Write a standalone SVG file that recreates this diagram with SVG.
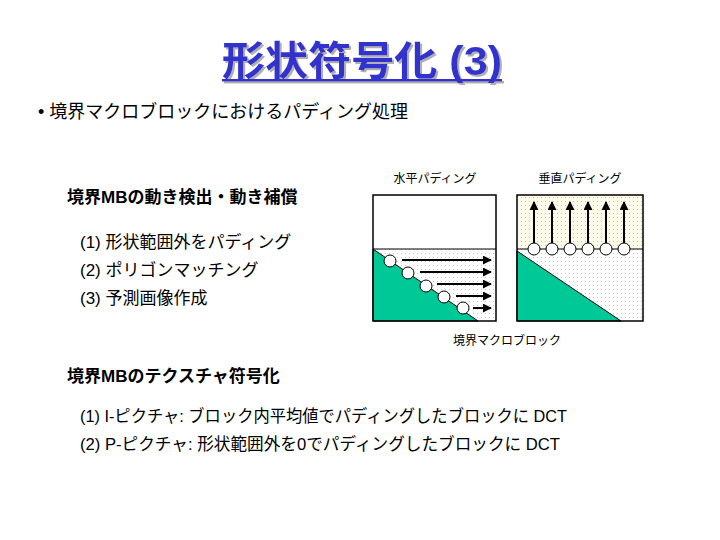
<svg xmlns="http://www.w3.org/2000/svg" width="720" height="540" viewBox="0 0 720 540">
<style>
.t{font-family:"Liberation Sans","Noto Sans CJK JP",sans-serif;fill:#000}
.b{font-weight:bold}
.box{fill:none;stroke:#000;stroke-width:1.5}
.arr{stroke:#000;stroke-width:2;fill:none;marker-end:url(#ah)}
.c{fill:#fff;stroke:#000;stroke-width:1}
.g{fill:#00c896;stroke:#000;stroke-width:1}
</style>
<defs>
<pattern id="dots" width="4" height="4" patternUnits="userSpaceOnUse">
<rect width="4" height="4" fill="#fff"/>
<rect x="1" y="1" width="1" height="1" fill="#c8c8c8"/>
</pattern>
<pattern id="dotsY" width="4" height="4" patternUnits="userSpaceOnUse">
<rect width="4" height="4" fill="#fcfae8"/>
<rect x="1" y="1" width="1" height="1" fill="#c4c4b4"/>
</pattern>
<marker id="ah" viewBox="0 0 10 10" refX="9" refY="5" markerWidth="4.5" markerHeight="4.5" orient="auto" markerUnits="strokeWidth">
<path d="M0,0 L10,5 L0,10 Z" fill="#000"/>
</marker>
<filter id="shadow" x="-10%" y="-20%" width="120%" height="140%">
<feOffset in="SourceAlpha" dx="2" dy="2" result="o"/>
<feFlood flood-color="#b0b0b0"/>
<feComposite in2="o" operator="in" result="s"/>
<feMerge><feMergeNode in="s"/><feMergeNode in="SourceGraphic"/></feMerge>
</filter>
</defs>
<rect width="720" height="540" fill="#fff"/>

<g id="title" filter="url(#shadow)">
<text x="222" y="75" class="t b" font-size="40" textLength="280" lengthAdjust="spacingAndGlyphs" style="fill:#3333cc">形状符号化 (3)</text>
<rect x="222" y="79" width="280" height="2.5" fill="#3333cc"/>
</g>

<g id="bullet">
<text x="38" y="118" class="t" font-size="18">• 境界マクロブロックにおけるパディング処理</text>
</g>

<g id="motion">
<text x="67" y="203" class="t b" font-size="17">境界MBの動き検出・動き補償</text>
<text x="80" y="248" class="t" font-size="17">(1) 形状範囲外をパディング</text>
<text x="80" y="276" class="t" font-size="17">(2) ポリゴンマッチング</text>
<text x="80" y="304" class="t" font-size="17">(3) 予測画像作成</text>
</g>

<g id="texture">
<text x="67" y="382" class="t b" font-size="17">境界MBのテクスチャ符号化</text>
<text x="80" y="422" class="t" font-size="17" textLength="487" lengthAdjust="spacingAndGlyphs">(1) I-ピクチャ: ブロック内平均値でパディングしたブロックに DCT</text>
<text x="80" y="450" class="t" font-size="17" textLength="480" lengthAdjust="spacingAndGlyphs">(2) P-ピクチャ: 形状範囲外を0でパディングしたブロックに DCT</text>
</g>

<g id="horizontal-padding">
<text x="435" y="183" text-anchor="middle" class="t" font-size="12">水平パディング</text>
<rect x="373" y="195" width="123" height="54" fill="#fff"/>
<rect x="373" y="249" width="123" height="72" fill="url(#dots)"/>
<polygon points="373,249 373,321 478,321" class="g"/>
<line x1="373" y1="249" x2="496" y2="249" stroke="#000" stroke-width="1"/>
<rect x="373" y="195" width="123" height="126" class="box"/>
</g>

<g id="vertical-padding">
<text x="580" y="183" text-anchor="middle" class="t" font-size="12">垂直パディング</text>
<rect x="517" y="195" width="126" height="54" fill="url(#dotsY)"/>
<rect x="517" y="249" width="126" height="72" fill="url(#dots)"/>
<polygon points="517,251 517,321 621,321" class="g"/>
<line x1="517" y1="249" x2="643" y2="249" stroke="#000" stroke-width="1"/>
<rect x="517" y="195" width="126" height="126" class="box"/>
</g>

<g id="connectors">
<line x1="402" y1="260" x2="491" y2="260" class="arr"/>
<line x1="420" y1="272" x2="491" y2="272" class="arr"/>
<line x1="437" y1="284" x2="491" y2="284" class="arr"/>
<line x1="456" y1="296" x2="491" y2="296" class="arr"/>
<line x1="473" y1="308" x2="491" y2="308" class="arr"/>
<line x1="534" y1="243" x2="534" y2="202" class="arr"/>
<line x1="552" y1="243" x2="552" y2="202" class="arr"/>
<line x1="570" y1="243" x2="570" y2="202" class="arr"/>
<line x1="588" y1="243" x2="588" y2="202" class="arr"/>
<line x1="606" y1="243" x2="606" y2="202" class="arr"/>
<line x1="624" y1="243" x2="624" y2="202" class="arr"/>
</g>

<g id="circles">
<circle cx="390" cy="261" r="6" class="c"/>
<circle cx="408" cy="273" r="6" class="c"/>
<circle cx="426" cy="286" r="6" class="c"/>
<circle cx="444" cy="297" r="6" class="c"/>
<circle cx="463" cy="308" r="6" class="c"/>
<circle cx="534" cy="249" r="6" class="c"/>
<circle cx="552" cy="249" r="6" class="c"/>
<circle cx="570" cy="249" r="6" class="c"/>
<circle cx="588" cy="249" r="6" class="c"/>
<circle cx="606" cy="249" r="6" class="c"/>
<circle cx="624" cy="249" r="6" class="c"/>
</g>

<g id="caption">
<text x="507" y="345" text-anchor="middle" class="t" font-size="12">境界マクロブロック</text>
</g>
</svg>
